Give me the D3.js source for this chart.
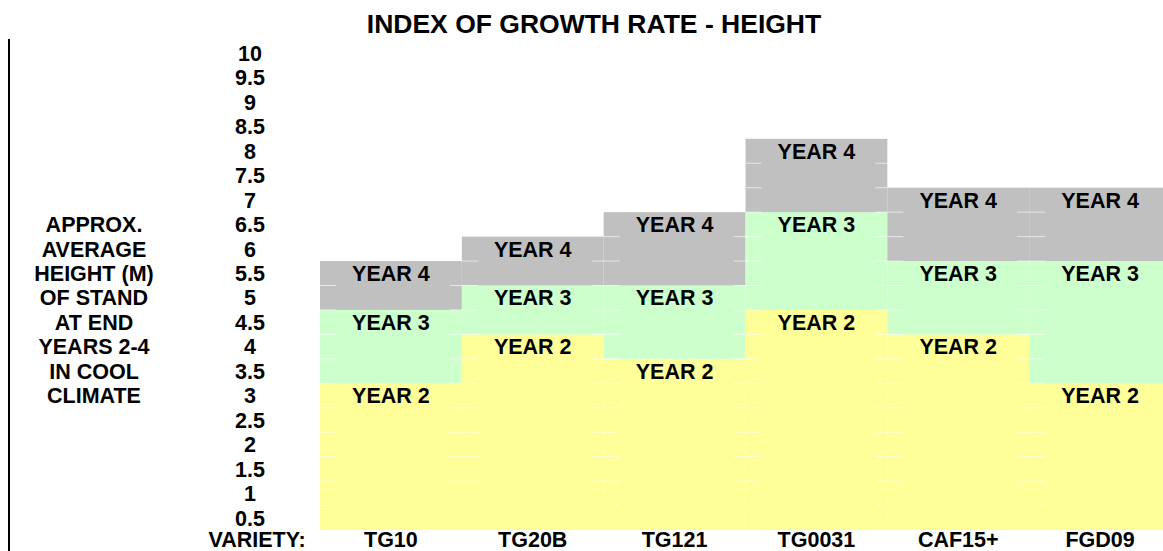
<!DOCTYPE html>
<html lang="en">
<head>
    <meta charset="UTF-8">
    <title>Index of growth rate - height</title>
    <script src="https://cdn.jsdelivr.net/npm/d3@7/dist/d3.min.js"></script>
    <style>
        body { margin: 0; background: #fff; }
        text { font-family: "Liberation Sans", Arial, Helvetica, sans-serif; font-weight: bold; fill: #000; }
    </style>
</head>
<body>
    <svg width="1163" height="551"></svg>
    <script>
        const categories = ["TG10", "TG20B", "TG121", "TG0031", "CAF15+", "FGD09"];
        const year2 = [3, 4, 3.5, 4.5, 4, 3];
        const year3 = [4.5, 5, 5, 6.5, 5.5, 5.5];
        const year4 = [5.5, 6, 6.5, 8, 7, 7];
        const tickLabels = ["10", "9.5", "9", "8.5", "8", "7.5", "7", "6.5", "6", "5.5",
                            "5", "4.5", "4", "3.5", "3", "2.5", "2", "1.5", "1", "0.5"];
        const sideLabels = ["APPROX.", "AVERAGE", "HEIGHT (M)", "OF STAND",
                            "AT END", "YEARS 2-4", "IN COOL", "CLIMATE"];
        const sideStart = 6.5;

        const svg = d3.select("svg");
        const fs = 21.5;

        const x = d3.scaleBand()
            .domain(categories)
            .range([320, 1171])
            .padding(0);

        const y = d3.scaleLinear()
            .domain([0, 10])
            .range([530, 41]);

        // stacked segments
        const segs = [];
        categories.forEach((c, i) => {
            segs.push({ c, lo: 0, hi: year2[i], fill: "#FFFF99", label: "YEAR 2" });
            segs.push({ c, lo: year2[i], hi: year3[i], fill: "#CCFFCC", label: "YEAR 3" });
            segs.push({ c, lo: year3[i], hi: year4[i], fill: "#C0C0C0", label: "YEAR 4" });
        });

        svg.append("g")
            .selectAll("rect")
            .data(segs)
            .join("rect")
            .attr("x", d => x(d.c))
            .attr("width", x.bandwidth())
            .attr("y", d => y(d.hi))
            .attr("height", d => y(d.lo) - y(d.hi))
            .attr("fill", d => d.fill);

        // faint spreadsheet gridline stubs
        const stubs = [];
        categories.forEach((c, i) => {
            const b = x(c);
            for (let k = 0.5; k < 10; k += 0.5) {
                if (i === 0) {
                    if (k < year4[i]) stubs.push([b, b + 16, k]);
                } else {
                    if (k < year4[i - 1]) stubs.push([b - 12, b, k]);
                    if (k < year4[i]) stubs.push([b, b + 16, k]);
                }
            }
        });
        svg.append("g")
            .selectAll("line")
            .data(stubs)
            .join("line")
            .attr("x1", d => d[0])
            .attr("x2", d => d[1])
            .attr("y1", d => y(d[2]))
            .attr("y2", d => y(d[2]))
            .attr("stroke", "#fff")
            .attr("stroke-opacity", 0.6)
            .attr("stroke-width", 1);

        svg.append("g")
            .selectAll("text")
            .data(segs)
            .join("text")
            .attr("x", d => x(d.c) + x.bandwidth() / 2)
            .attr("y", d => y(d.hi - 0.25))
            .attr("dy", "0.36em")
            .attr("text-anchor", "middle")
            .attr("font-size", fs)
            .text(d => d.label);

        // tick labels column
        svg.append("g")
            .selectAll("text")
            .data(tickLabels)
            .join("text")
            .attr("x", 250)
            .attr("y", d => y(+d - 0.25))
            .attr("dy", "0.36em")
            .attr("text-anchor", "middle")
            .attr("font-size", fs)
            .text(d => d);

        // side description
        svg.append("g")
            .selectAll("text")
            .data(sideLabels)
            .join("text")
            .attr("x", 94)
            .attr("y", (d, i) => y(sideStart - i * 0.5 - 0.25))
            .attr("dy", "0.36em")
            .attr("text-anchor", "middle")
            .attr("font-size", fs)
            .text(d => d);

        // category row (sits just below the bars, tight to the page bottom)
        const rowY = y(-0.25) - 2.5;
        svg.append("g")
            .selectAll("text")
            .data(categories)
            .join("text")
            .attr("x", d => x(d) + x.bandwidth() / 2)
            .attr("y", rowY)
            .attr("dy", "0.36em")
            .attr("text-anchor", "middle")
            .attr("font-size", fs)
            .text(d => d);

        svg.append("text")
            .attr("x", 257)
            .attr("y", rowY)
            .attr("dy", "0.36em")
            .attr("text-anchor", "middle")
            .attr("font-size", fs)
            .text("VARIETY:");

        svg.append("text")
            .attr("x", 594)
            .attr("y", 33)
            .attr("text-anchor", "middle")
            .attr("font-size", 26.5)
            .text("INDEX OF GROWTH RATE - HEIGHT");

        svg.append("line")
            .attr("x1", 9).attr("x2", 9)
            .attr("y1", 39).attr("y2", 551)
            .attr("stroke", "#000")
            .attr("stroke-width", 2);
    </script>
</body>
</html>
